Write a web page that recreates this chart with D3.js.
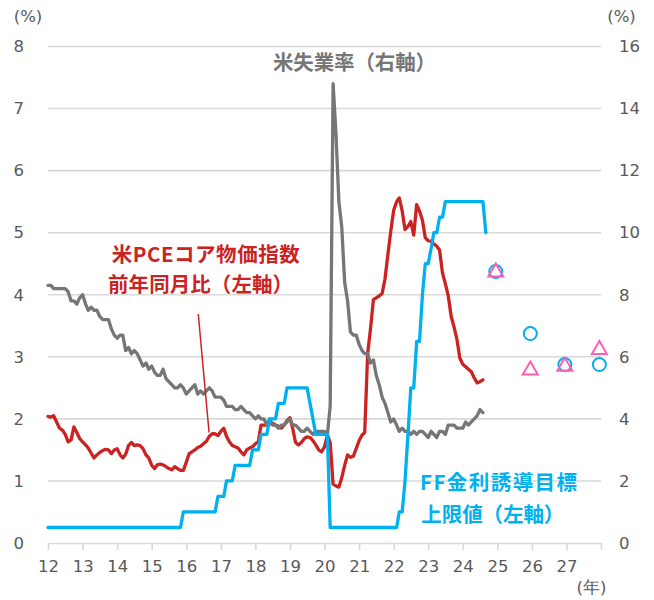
<!DOCTYPE html>
<html><head><meta charset="utf-8">
<script src="https://cdn.jsdelivr.net/npm/d3@7"></script>
<style>
html,body{margin:0;padding:0;background:#fff;}
svg{display:block;}
</style></head>
<body>
<svg id="c" width="654" height="600"></svg>
<script>
// ---- data ----
const startYear = 2012; // monthly series start at 2012-01
const xTickYears = [2012,2013,2014,2015,2016,2017,2018,2019,2020,2021,2022,2023,2024,2025,2026,2027,2028];
const xTickLabels = ["12","13","14","15","16","17","18","19","20","21","22","23","24","25","26","27",""];
const leftTicks = [0,1,2,3,4,5,6,7,8];
const rightTicks = [0,2,4,6,8,10,12,14,16];

// US core PCE YoY (%), left axis, 2012-01 .. 2024-08
const corePCE = [
 2.04,2.03,2.05,1.95,1.85,1.82,1.75,1.63,1.66,1.87,1.78,1.68,
 1.63,1.58,1.53,1.45,1.37,1.42,1.46,1.49,1.51,1.50,1.44,1.50,
 1.52,1.42,1.37,1.43,1.57,1.62,1.57,1.58,1.57,1.52,1.42,1.37,
 1.25,1.20,1.26,1.27,1.26,1.23,1.20,1.18,1.23,1.20,1.17,1.17,
 1.30,1.44,1.47,1.50,1.54,1.56,1.60,1.64,1.72,1.76,1.76,1.73,
 1.80,1.85,1.72,1.63,1.57,1.55,1.53,1.47,1.42,1.50,1.53,1.55,
 1.60,1.63,1.90,1.90,1.90,1.92,1.93,1.90,1.88,1.85,1.90,1.97,
 2.02,1.83,1.62,1.58,1.62,1.68,1.71,1.70,1.65,1.58,1.50,1.47,
 1.55,1.74,1.62,0.95,0.92,0.90,1.05,1.25,1.42,1.38,1.40,1.52,
 1.65,1.74,1.78,3.05,3.45,3.92,3.95,3.98,4.02,4.25,4.65,5.02,
 5.36,5.50,5.56,5.35,5.05,5.10,5.18,4.96,5.45,5.35,5.20,4.92,
 4.87,4.86,4.82,4.78,4.72,4.35,4.18,3.98,3.65,3.48,3.28,2.98,
 2.88,2.84,2.80,2.76,2.66,2.58,2.60,2.63
];
// US unemployment rate (%), right axis, 2012-01 .. 2024-08
const unemp = [
 8.3,8.3,8.2,8.2,8.2,8.2,8.2,8.1,7.8,7.8,7.7,7.9,
 8.0,7.7,7.5,7.6,7.5,7.5,7.3,7.2,7.2,7.2,6.9,6.7,
 6.6,6.7,6.7,6.2,6.3,6.1,6.2,6.1,5.9,5.7,5.8,5.6,
 5.7,5.5,5.4,5.4,5.6,5.3,5.2,5.1,5.0,5.0,5.1,5.0,
 4.8,4.9,5.0,5.1,4.8,4.9,4.8,4.9,5.0,4.9,4.7,4.7,
 4.7,4.6,4.4,4.4,4.4,4.3,4.3,4.4,4.3,4.2,4.2,4.1,
 4.0,4.1,4.0,4.0,3.8,4.0,3.8,3.8,3.7,3.8,3.8,3.9,
 4.0,3.8,3.8,3.7,3.6,3.6,3.7,3.6,3.5,3.6,3.6,3.6,
 3.6,3.5,4.4,14.8,13.2,11.0,10.2,8.4,7.8,6.8,6.7,6.7,
 6.4,6.2,6.1,6.1,5.8,5.9,5.4,5.1,4.7,4.5,4.2,3.9,
 4.0,3.8,3.6,3.7,3.6,3.6,3.5,3.6,3.5,3.6,3.6,3.5,
 3.4,3.6,3.5,3.4,3.6,3.6,3.5,3.8,3.8,3.8,3.7,3.7,
 3.7,3.9,3.8,3.9,4.0,4.1,4.3,4.2
];
// FF rate target upper bound (%), left axis, 2012-01 .. 2024-09
const ffUpper = [
 0.25,0.25,0.25,0.25,0.25,0.25,0.25,0.25,0.25,0.25,0.25,0.25,
 0.25,0.25,0.25,0.25,0.25,0.25,0.25,0.25,0.25,0.25,0.25,0.25,
 0.25,0.25,0.25,0.25,0.25,0.25,0.25,0.25,0.25,0.25,0.25,0.25,
 0.25,0.25,0.25,0.25,0.25,0.25,0.25,0.25,0.25,0.25,0.25,0.5,
 0.5,0.5,0.5,0.5,0.5,0.5,0.5,0.5,0.5,0.5,0.5,0.75,
 0.75,0.75,1.0,1.0,1.0,1.25,1.25,1.25,1.25,1.25,1.25,1.5,
 1.5,1.5,1.75,1.75,1.75,2.0,2.0,2.0,2.25,2.25,2.25,2.5,
 2.5,2.5,2.5,2.5,2.5,2.5,2.5,2.25,2.0,1.75,1.75,1.75,
 1.75,1.75,0.25,0.25,0.25,0.25,0.25,0.25,0.25,0.25,0.25,0.25,
 0.25,0.25,0.25,0.25,0.25,0.25,0.25,0.25,0.25,0.25,0.25,0.25,
 0.25,0.25,0.5,0.5,1.0,1.75,2.5,2.5,3.25,3.25,4.0,4.5,
 4.5,4.75,5.0,5.0,5.25,5.25,5.5,5.5,5.5,5.5,5.5,5.5,
 5.5,5.5,5.5,5.5,5.5,5.5,5.5,5.5,5.0
];
// Year-end projections (left axis)
const projYears = [2024,2025,2026,2027];
const projCircle = [4.375,3.375,2.875,2.875];
const projTriangle = [4.4,2.82,2.88,3.15];

// ---- chart ----
const svg = d3.select("#c");
const numFont = "'DejaVu Sans', Verdana, sans-serif";
const jpFont = "'Noto Sans CJK JP', 'Noto Sans', sans-serif";
const textGray = "#595959";
const gridColor = "#d9d9d9";
const cRed = "#cc2222", cGray = "#767676", cCyan = "#00b0f0", cPink = "#ff5fb0";

const x = d3.scaleTime().domain([new Date(2012,0,1), new Date(2028,0,1)]).range([48, 601]);
const yL = d3.scaleLinear().domain([0,8]).range([543, 46.5]);
const yR = d3.scaleLinear().domain([0,16]).range([543, 46.5]);
const monthDate = i => new Date(startYear, i, 1);

// gridlines
svg.append("g").selectAll("line").data(leftTicks.filter(d=>d>0)).join("line")
  .attr("x1", x.range()[0]).attr("x2", x.range()[1])
  .attr("y1", d=>yL(d)).attr("y2", d=>yL(d))
  .attr("stroke", gridColor).attr("stroke-width", 1.6);

// x axis
const xAxis = d3.axisBottom(x)
  .tickValues(xTickYears.map(y=>new Date(y,0,1)))
  .tickFormat((d,i)=>xTickLabels[i])
  .tickSize(7).tickSizeOuter(0).tickPadding(10);
const gx = svg.append("g").attr("transform", `translate(0,${yL(0)})`).call(xAxis);
gx.select(".domain").attr("stroke", gridColor).attr("stroke-width", 1.6);
gx.selectAll(".tick line").attr("stroke", gridColor).attr("stroke-width", 1.6);
gx.selectAll(".tick text").attr("fill", textGray).style("font-family", numFont).style("font-size","16.5px");

// left axis
const gl = svg.append("g").attr("transform", "translate(24,0)")
  .call(d3.axisLeft(yL).tickValues(leftTicks).tickSize(0).tickPadding(0));
gl.select(".domain").remove();
gl.selectAll(".tick text").attr("fill", textGray).style("font-family", numFont).style("font-size","16.5px");

// right axis
const gr = svg.append("g").attr("transform", "translate(619,0)")
  .call(d3.axisRight(yR).tickValues(rightTicks).tickSize(0).tickPadding(0));
gr.select(".domain").remove();
gr.selectAll(".tick text").attr("fill", textGray).style("font-family", numFont).style("font-size","16.5px");

// unit labels
const unit = (tx, ty, s, anchor) => svg.append("text").attr("x",tx).attr("y",ty)
  .attr("text-anchor",anchor).attr("fill",textGray)
  .style("font-family", numFont).style("font-size","16.5px").text(s);
unit(28, 22, "(%)", "middle");
unit(621.5, 22, "(%)", "middle");
unit(591.5, 593, "(年)", "middle");

// lines
const lineL = d3.line().x((d,i)=>x(monthDate(i))).y(d=>yL(d));
const lineR = d3.line().x((d,i)=>x(monthDate(i))).y(d=>yR(d));
const drawLine = (data, gen, color) => svg.append("path").datum(data)
  .attr("d", gen).attr("fill","none").attr("stroke",color)
  .attr("stroke-width",3.3).attr("stroke-linejoin","round").attr("stroke-linecap","round");
drawLine(corePCE, lineL, cRed);
drawLine(unemp, lineR, cGray);
drawLine(ffUpper, lineL, cCyan);

// projection markers
const pd = projYears.map((yr,i)=>({date:new Date(yr,11,15), c:projCircle[i], t:projTriangle[i]}));
svg.append("g").selectAll("circle").data(pd).join("circle")
  .attr("cx", d=>x(d.date)).attr("cy", d=>yL(d.c)).attr("r", 6.5)
  .attr("fill","none").attr("stroke",cCyan).attr("stroke-width",2);
svg.append("g").selectAll("path").data(pd).join("path")
  .attr("transform", d=>`translate(${x(d.date)},${yL(d.t)})`)
  .attr("d", "M0,-6.5L7.5,6.5L-7.5,6.5Z")
  .attr("fill","none").attr("stroke",cPink).attr("stroke-width",2).attr("stroke-linejoin","miter");

// leader line for PCE label
svg.append("line")
  .attr("x1", x(new Date(2016,4,7))).attr("y1", yL(3.69))
  .attr("x2", x(new Date(2016,7,29))).attr("y2", yL(1.78))
  .attr("stroke", cRed).attr("stroke-width", 1.5);

// labels
const lab = (tx, ty, s, color, w) => svg.append("text").attr("x",tx).attr("y",ty)
  .attr("fill",color).style("font-family", jpFont).style("font-weight","bold")
  .style("font-size","20.5px").attr("textLength", w).attr("lengthAdjust","spacing").text(s);
lab(273, 70, "米失業率（右軸）", cGray, 163);
lab(111.7, 262, "米PCEコア物価指数", cRed, 188);
lab(108, 292, "前年同月比（左軸）", cRed, 185);
lab(420, 490, "FF金利誘導目標", cCyan, 157);
lab(421.3, 522, "上限値（左軸）", cCyan, 143);
</script>
</body></html>
